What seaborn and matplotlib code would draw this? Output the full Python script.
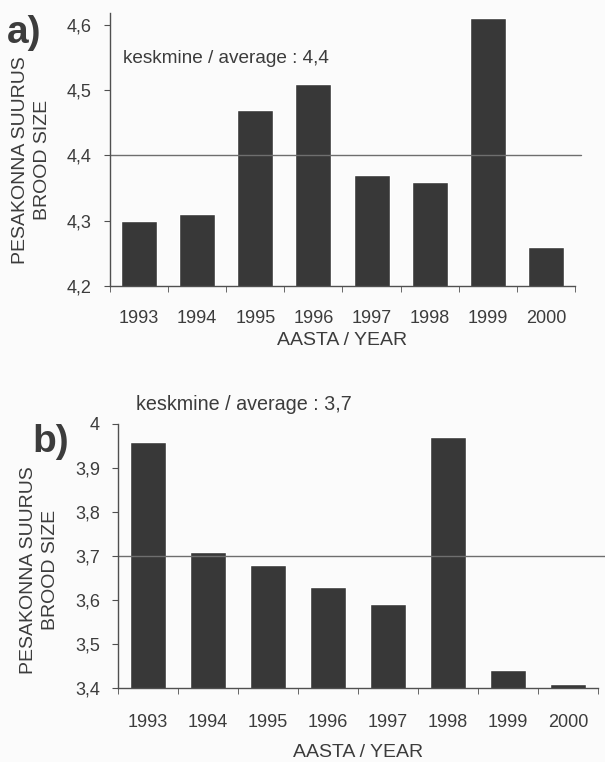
import matplotlib
matplotlib.use("Agg")
import matplotlib.pyplot as plt
import seaborn as sns
import pandas as pd
import numpy as np

years = ["1993", "1994", "1995", "1996", "1997", "1998", "1999", "2000"]
brood_a = [4.30, 4.31, 4.47, 4.51, 4.37, 4.36, 4.61, 4.26]
brood_b = [3.96, 3.71, 3.68, 3.63, 3.59, 3.97, 3.44, 3.41]
avg_a = 4.4
avg_b = 3.7
yticks_a = [4.2, 4.3, 4.4, 4.5, 4.6]
yticks_b = [3.4, 3.5, 3.6, 3.7, 3.8, 3.9, 4.0]

sns.set_style("white")
plt.rcParams['font.family'] = ['Liberation Sans', 'DejaVu Sans']

txt = "#3c3c3c"
barc = "#383838"
axc = "#505050"

fig = plt.figure(figsize=(6.05, 7.62), dpi=100)
fig.patch.set_facecolor("#fbfbfb")


def fmt(v):
    s = ("%.1f" % v).replace(".", ",")
    if s.endswith(",0"):
        s = s[:-2]
    return s


def panel(ax, vals, yticks, ylim, width, xpad):
    df = pd.DataFrame({"year": years, "size": vals})
    sns.barplot(data=df, x="year", y="size", color=barc, saturation=1,
                width=width, ax=ax)
    ax.set_facecolor("#fbfbfb")
    ax.set_ylim(*ylim)
    ax.set_xlim(-0.5, len(years) - 0.5)
    sns.despine(ax=ax)
    for s in ["left", "bottom"]:
        ax.spines[s].set_color(axc)
        ax.spines[s].set_linewidth(1.0)
    ax.set_yticks(yticks)
    ax.set_yticklabels([fmt(v) for v in yticks], fontsize=13, color=txt)
    ax.set_xticks(range(len(years)))
    ax.set_xticklabels(years, fontsize=13, color=txt)
    ax.set_xticks(np.arange(-0.5, len(years)), minor=True)
    ax.tick_params(axis="x", which="major", length=0, pad=xpad)
    ax.tick_params(axis="x", which="minor", length=4.5, direction="out",
                   color=axc, bottom=True)
    ax.tick_params(axis="y", length=4, direction="out", color=axc,
                   left=True, pad=9)
    ax.set_ylabel("PESAKONNA SUURUS\nBROOD SIZE", fontsize=14, color=txt,
                  linespacing=1.35)
    ax.yaxis.label.set_verticalalignment("center")
    ax.set_xlabel("AASTA / YEAR", fontsize=14, color=txt)
    ax.xaxis.label.set_verticalalignment("center")


# panel a
ax1 = fig.add_axes([0.1818, 0.6247, 0.7686, 0.3583])
panel(ax1, brood_a, yticks_a, (4.2, 4.6184), 0.62, 17)
ax1.axhline(avg_a, color="#6e6e6e", lw=1.0, xmax=1.013, clip_on=False)
ax1.text(0.028, 0.835, "keskmine / average : " + fmt(avg_a),
         transform=ax1.transAxes, fontsize=13.7, color=txt, va="center")
ax1.yaxis.set_label_coords(-0.169, 0.4615)
ax1.xaxis.set_label_coords(0.5, -0.2)
fig.text(0.011, 0.98, "a)", fontsize=28, fontweight="bold", color=txt,
         va="top")

# panel b
ax2 = fig.add_axes([0.195, 0.0971, 0.7934, 0.3465])
panel(ax2, brood_b, yticks_b, (3.4, 4.0), 0.6, 19)
ax2.axhline(avg_b, color="#6e6e6e", lw=1.0, xmax=1.015, clip_on=False)
ax2.text(0.0375, 1.072, "keskmine / average : " + fmt(avg_b),
         transform=ax2.transAxes, fontsize=14.2, color=txt, va="center")
ax2.yaxis.set_label_coords(-0.1635, 0.447)
ax2.xaxis.set_label_coords(0.5, -0.246)
fig.text(0.054, 0.444, "b)", fontsize=28, fontweight="bold", color=txt,
         va="top")

fig.savefig("out.png", dpi=100, facecolor=fig.get_facecolor())
